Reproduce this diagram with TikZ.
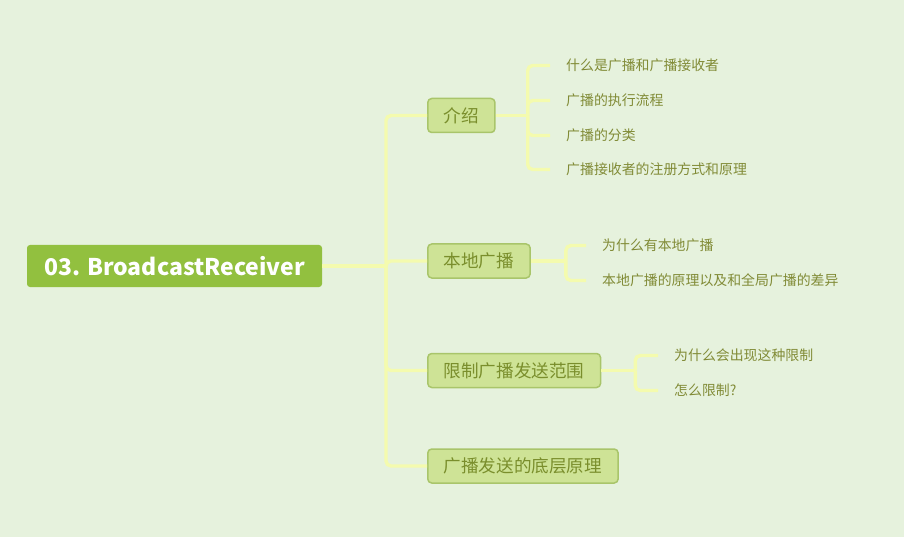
\documentclass[tikz,border=0pt]{standalone}
\usepackage{fontspec}
\setmainfont{Noto Sans CJK SC}
\usetikzlibrary{positioning}
\definecolor{bgcol}{HTML}{E6F2DD}
\definecolor{rootcol}{HTML}{92C03F}
\definecolor{topicfill}{HTML}{CEE396}
\definecolor{topicline}{HTML}{A9C56A}
\definecolor{topictext}{HTML}{7A8E2C}
\definecolor{leaftext}{HTML}{818B36}
\definecolor{linkcol}{HTML}{F4FBAE}
\tikzset{
  root/.style={fill=rootcol, text=white, rounded corners=3pt, minimum height=42pt,
    inner xsep=15pt, minimum width=295pt, font=\fontsize{23}{26}\selectfont\bfseries},
  topic/.style={fill=topicfill, draw=topicline, line width=1.5pt, rounded corners=4pt,
    text=topictext, minimum height=34pt, inner xsep=16pt, anchor=west,
    font=\fontsize{17.6}{20}\selectfont},
  leaf/.style={text=leaftext, anchor=west, inner xsep=16pt, inner ysep=2pt,
    font=\fontsize{13.9}{16}\selectfont},
  link/.style={draw=linkcol, line width=3.4pt, rounded corners=5pt},
}
\begin{document}
\begin{tikzpicture}[x=1pt, y=-1pt]
\fill[bgcol] (0,0) rectangle (904,537);
\useasboundingbox (0,0) rectangle (904,537);

\node[root] (root) at (174.5,266) {03. BroadcastReceiver};
\coordinate (hub) at (386,266);

\node[topic] (intro) at (427,115.5) {介绍};
\node[topic] (local) at (427,261) {本地广播};
\node[topic] (limit) at (427,370.5) {限制广播发送范围};
\node[topic] (base) at (427,466) {广播发送的底层原理};

\draw[link] (root.east) -- (hub);
\draw[link] (hub) |- (intro.west);
\draw[link] (hub) |- (local.west);
\draw[link] (hub) |- (limit.west);
\draw[link] (hub) |- (base.west);

% 介绍
\node[leaf] (what) at (550,65.5) {什么是广播和广播接收者};
\node[leaf] (flow) at (550,100.5) {广播的执行流程};
\node[leaf] (kind) at (550,135.5) {广播的分类};
\node[leaf] (reg) at (550,169.5) {广播接收者的注册方式和原理};
\draw[link] (intro.east) -- ++(32,0) coordinate (b1);
\foreach \l in {what,flow,kind,reg}
  \draw[link] (b1) |- (\l.west);

% 本地广播
\node[leaf] (why) at (586,245.5) {为什么有本地广播};
\node[leaf] (diff) at (586,280.5) {本地广播的原理以及和全局广播的差异};
\draw[link] (local.east) -- ++(35,0) coordinate (b2);
\foreach \l in {why,diff}
  \draw[link] (b2) |- (\l.west);

% 限制广播发送范围
\node[leaf] (reason) at (658,355.5) {为什么会出现这种限制};
\node[leaf] (how) at (658,390.5) {怎么限制?};
\draw[link] (limit.east) -- ++(34,0) coordinate (b3);
\foreach \l in {reason,how}
  \draw[link] (b3) |- (\l.west);

\end{tikzpicture}
\end{document}
